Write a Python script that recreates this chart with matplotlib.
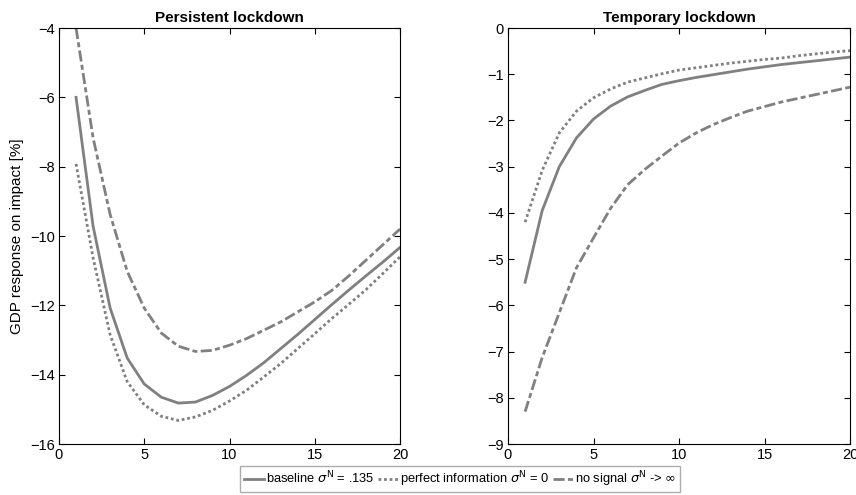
import matplotlib
matplotlib.use("Agg")
import matplotlib.pyplot as plt
import numpy as np

plt.rcParams['font.family'] = ['Liberation Sans', 'DejaVu Sans']
plt.rcParams['mathtext.fontset'] = 'dejavusans'

horizon = list(range(1, 21))

# Persistent lockdown
pers_baseline = [-6.0, -9.72, -12.08, -13.52, -14.27, -14.65, -14.82, -14.79, -14.6, -14.34,
                 -14.02, -13.66, -13.25, -12.84, -12.41, -11.98, -11.56, -11.15, -10.75, -10.33]
pers_perfect = [-7.92, -10.63, -12.85, -14.2, -14.87, -15.2, -15.32, -15.22, -15.03, -14.76,
                -14.45, -14.07, -13.68, -13.25, -12.82, -12.38, -11.97, -11.55, -11.08, -10.6]
pers_nosignal = [-4.0, -7.17, -9.38, -11.02, -12.08, -12.8, -13.18, -13.33, -13.3, -13.15,
                 -12.96, -12.72, -12.48, -12.19, -11.9, -11.57, -11.15, -10.7, -10.25, -9.8]

# Temporary lockdown
temp_baseline = [-5.5, -3.95, -3.0, -2.38, -1.97, -1.69, -1.49, -1.35, -1.22, -1.14,
                 -1.07, -1.01, -0.95, -0.89, -0.84, -0.79, -0.75, -0.71, -0.67, -0.63]
temp_perfect = [-4.2, -3.08, -2.27, -1.8, -1.51, -1.32, -1.17, -1.08, -0.99, -0.91,
                -0.86, -0.81, -0.76, -0.72, -0.68, -0.65, -0.6, -0.56, -0.52, -0.49]
temp_nosignal = [-8.3, -7.13, -6.16, -5.19, -4.54, -3.9, -3.39, -3.06, -2.77, -2.49,
                 -2.27, -2.09, -1.94, -1.8, -1.7, -1.6, -1.52, -1.44, -1.36, -1.28]

labels = [r'baseline $\sigma^{\mathrm{N}}$ = .135',
          r'perfect information $\sigma^{\mathrm{N}}$ = 0',
          r'no signal $\sigma^{\mathrm{N}}$ -> $\infty$']

gray = '#808080'
styles = ['-', (0, (1, 1)), (0, (4, 1.2, 1.8, 1.2))]

fig = plt.figure(figsize=(8.56, 4.95), dpi=100)
ax1 = fig.add_axes([59/856, 1-444/495, 341/856, 416/495])
ax2 = fig.add_axes([508/856, 1-444/495, 342/856, 416/495])

for ax, series, title, ylim, yt in [
        (ax1, [pers_baseline, pers_perfect, pers_nosignal], 'Persistent lockdown', (-16, -4), np.arange(-16, -3, 2)),
        (ax2, [temp_baseline, temp_perfect, temp_nosignal], 'Temporary lockdown', (-9, 0), np.arange(-9, 1, 1))]:
    for s, ls, lab in zip(series, styles, labels):
        ax.plot(horizon, s, color=gray, lw=2.0, linestyle=ls, label=lab)
    ax.set_xlim(0, 20)
    ax.set_ylim(*ylim)
    ax.set_xticks([0, 5, 10, 15, 20])
    ax.set_yticks(yt)
    ax.tick_params(direction='in', top=True, right=True, labelsize=10.5, length=4, width=0.8, pad=3)
    ax.set_title(title, fontsize=11, fontweight='bold', pad=4)
    for sp in ax.spines.values():
        sp.set_linewidth(0.8)

ax1.set_ylabel('GDP response on impact [%]', fontsize=11)

h, l = ax1.get_legend_handles_labels()
fig.legend(h, l, loc='center', bbox_to_anchor=(460/856, 1-479/495), ncol=3,
           fontsize=9.3, frameon=True, fancybox=False, edgecolor='#999999',
           handlelength=1.6, handletextpad=0.1, columnspacing=0.3, borderpad=0.25,
           borderaxespad=0)

fig.savefig('out.png', dpi=100)
